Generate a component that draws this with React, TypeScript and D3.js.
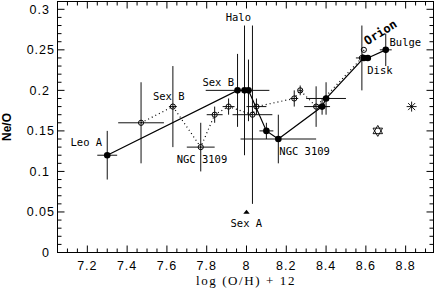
import React from "react";
import * as d3 from "d3";

// Filled points (solid line)
const fx = [7.3, 7.955, 7.99, 8.01, 8.1, 8.16, 8.38, 8.4, 8.59, 8.61, 8.7];
const fy = [0.12, 0.2, 0.2, 0.2, 0.15, 0.14, 0.18, 0.19, 0.24, 0.24, 0.25];
const fxe = [0.05, 0.16, 0, 0, 0.035, 0.19, 0.04, 0.1, 0, 0, 0.03];
const fye = [0.03, 0.045, 0.08, 0.038, 0.01, 0.03, 0.01, 0.02, 0, 0, 0.02];

// Open points (dotted line)
const ox = [7.47, 7.63, 7.77, 7.84, 7.91, 8.03, 8.05, 8.24, 8.27, 8.35, 8.58, 8.59];
const oy = [0.16, 0.18, 0.13, 0.17, 0.18, 0.17, 0.18, 0.19, 0.2, 0.18, 0.24, 0.25];
const oxe = [0.115, 0.02, 0.07, 0.04, 0.03, 0.1, 0.05, 0.02, 0.01, 0.06, 0.03, 0];
const oye = [0.05, 0.05, 0.03, 0.01, 0.01, 0.11, 0.01, 0.01, 0.006, 0.025, 0.04, 0];

// Special markers
const triX = [8.0];
const triY = [0.05];
const hexX = [8.66];
const hexY = [0.15];
const starX = [8.83];
const starY = [0.18];

// Annotations
const labelText = ["Leo A", "Sex B", "Sex B", "Halo", "NGC 3109", "NGC 3109", "Sex A", "Bulge", "Disk"];
const labelX = [7.195, 7.609, 7.858, 7.959, 7.776, 8.165, 7.999, 8.719, 8.607];
const labelY = [0.131, 0.188, 0.205, 0.285, 0.11, 0.12, 0.0317, 0.2546, 0.22];
const labelAnchor = ["middle", "middle", "middle", "middle", "middle", "start", "middle", "start", "start"];

const xMajor = [7.2, 7.4, 7.6, 7.8, 8.0, 8.2, 8.4, 8.6, 8.8];
const xTickLabels = ["7.2", "7.4", "7.6", "7.8", "8", "8.2", "8.4", "8.6", "8.8"];
const yMajor = [0, 0.05, 0.1, 0.15, 0.2, 0.25, 0.3];
const yTickLabels = ["0", "0.05", "0.1", "0.15", "0.2", "0.25", "0.3"];

export default function App() {
  const L = 57.5, R = 433.5, T = 1.5, B = 252.5;
  const x = d3.scaleLinear().domain([7.05, 8.94]).range([L, R]);
  const y = d3.scaleLinear().domain([0, 0.31]).range([B, 1.2]);

  const xMinor = d3.range(7.05, 8.94, 0.05).filter((v) => !xMajor.some((m) => Math.abs(m - v) < 1e-6));
  const yMinor = d3.range(0, 0.31, 0.01).filter((v) => !yMajor.some((m) => Math.abs(m - v) < 1e-6));

  const lineGen = d3.line<[number, number]>().x((d) => x(d[0])).y((d) => y(d[1]));
  const solidPath = lineGen(fx.map((v, i) => [v, fy[i]] as [number, number]));
  const dottedPath = lineGen(ox.map((v, i) => [v, oy[i]] as [number, number]));

  const errBars = (xs: number[], ys: number[], xe: number[], ye: number[], key: string) =>
    xs.map((v, i) => (
      <g key={key + i} stroke="#111" strokeWidth={1}>
        {xe[i] > 0 && <line x1={x(v - xe[i])} x2={x(v + xe[i])} y1={y(ys[i])} y2={y(ys[i])} />}
        {ye[i] > 0 && <line x1={x(v)} x2={x(v)} y1={y(ys[i] - ye[i])} y2={y(ys[i] + ye[i])} />}
      </g>
    ));

  const hexPath = (cx: number, cy: number, r: number) => {
    const tri = (rot: number) =>
      d3.range(3).map((k) => {
        const a = rot + (k * 2 * Math.PI) / 3;
        return [cx + r * Math.sin(a), cy - r * Math.cos(a)];
      });
    const p = (t: number[][]) => "M" + t.map((q) => q.join(",")).join("L") + "Z";
    return p(tri(0)) + p(tri(Math.PI));
  };

  const labelFont = "'DejaVu Sans Mono', 'Liberation Mono', monospace";
  const tickFont = "'Liberation Sans', Arial, sans-serif";

  return (
    <svg width={436} height={288} style={{ position: "absolute", left: 0, top: 0, background: "#fff" }}>
      <rect x={0} y={0} width={436} height={288} fill="#fff" />
      {/* frame */}
      <rect x={L} y={T} width={R - L} height={B - T} fill="none" stroke="#000" strokeWidth={1} />
      {/* ticks */}
      <g stroke="#000" strokeWidth={1}>
        {xMajor.map((v) => (
          <g key={"xM" + v}>
            <line x1={x(v)} x2={x(v)} y1={B} y2={B - 7} />
            <line x1={x(v)} x2={x(v)} y1={T} y2={T + 7} />
          </g>
        ))}
        {xMinor.map((v) => (
          <g key={"xm" + v}>
            <line x1={x(v)} x2={x(v)} y1={B} y2={B - 4} />
            <line x1={x(v)} x2={x(v)} y1={T} y2={T + 4} />
          </g>
        ))}
        {yMajor.map((v) => (
          <g key={"yM" + v}>
            <line x1={L} x2={L + 7} y1={y(v)} y2={y(v)} />
            <line x1={R} x2={R - 7} y1={y(v)} y2={y(v)} />
          </g>
        ))}
        {yMinor.map((v) => (
          <g key={"ym" + v}>
            <line x1={L} x2={L + 4} y1={y(v)} y2={y(v)} />
            <line x1={R} x2={R - 4} y1={y(v)} y2={y(v)} />
          </g>
        ))}
      </g>
      {/* tick labels */}
      <g fontFamily={tickFont} fontSize={12.5} letterSpacing={1} fill="#000">
        {xMajor.map((v, i) => (
          <text key={"xl" + v} x={x(v)} y={270} textAnchor="middle">
            {xTickLabels[i]}
          </text>
        ))}
        {yMajor.map((v, i) => (
          <text key={"yl" + v} x={yTickLabels[i].length === 4 ? 55 : 50} y={y(v) + 4.5} textAnchor="end">
            {yTickLabels[i]}
          </text>
        ))}
      </g>
      {/* axis titles */}
      <text x={246} y={285} textAnchor="middle" fontFamily="'Liberation Serif', 'Times New Roman', serif" fontSize={13} letterSpacing={1.6}>
        log (O/H) + 12
      </text>
      <text transform="translate(11,127) rotate(-90)" textAnchor="middle" fontFamily={tickFont} fontWeight="bold" fontSize={12}>
        Ne/O
      </text>

      {/* error bars */}
      {errBars(fx, fy, fxe, fye, "fe")}
      {errBars(ox, oy, oxe, oye, "oe")}

      {/* lines */}
      <path d={dottedPath || ""} fill="none" stroke="#000" strokeWidth={1.2} strokeDasharray="1,3" />
      <path d={solidPath || ""} fill="none" stroke="#000" strokeWidth={1.2} />

      {/* markers */}
      {ox.map((v, i) => (
        <circle key={"oc" + i} cx={x(v)} cy={y(oy[i])} r={2.6} fill="none" stroke="#000" strokeWidth={1} />
      ))}
      {fx.map((v, i) => (
        <circle key={"fc" + i} cx={x(v)} cy={y(fy[i])} r={3.3} fill="#000" />
      ))}
      {triX.map((v, i) => (
        <path
          key={"tr" + i}
          d={`M${x(v) - 3.2},${y(triY[i]) + 1.8}L${x(v) + 3.2},${y(triY[i]) + 1.8}L${x(v)},${y(triY[i]) - 2.2}Z`}
          fill="#000"
        />
      ))}
      {hexX.map((v, i) => (
        <path key={"hx" + i} d={hexPath(x(v), y(hexY[i]), 5.5)} fill="none" stroke="#000" strokeWidth={0.9} />
      ))}
      {starX.map((v, i) => {
        const cx = x(v), cy = y(starY[i]), r = 5;
        return (
          <g key={"st" + i} stroke="#000" strokeWidth={0.9}>
            {d3.range(4).map((k) => {
              const a = (k * Math.PI) / 4;
              return <line key={k} x1={cx - r * Math.cos(a)} y1={cy - r * Math.sin(a)} x2={cx + r * Math.cos(a)} y2={cy + r * Math.sin(a)} />;
            })}
          </g>
        );
      })}

      {/* labels */}
      <g fontFamily={labelFont} fontSize={10.5} fill="#000">
        {labelText.map((t, i) => (
          <text key={"lb" + i} x={x(labelX[i])} y={y(labelY[i])} textAnchor={labelAnchor[i] as any}>
            {t}
          </text>
        ))}
      </g>
      <text
        transform={`translate(${x(8.607)},${y(0.2555)}) rotate(-32)`}
        fontFamily={labelFont}
        fontWeight="bold"
        fontSize={12}
      >
        Orion
      </text>
    </svg>
  );
}
